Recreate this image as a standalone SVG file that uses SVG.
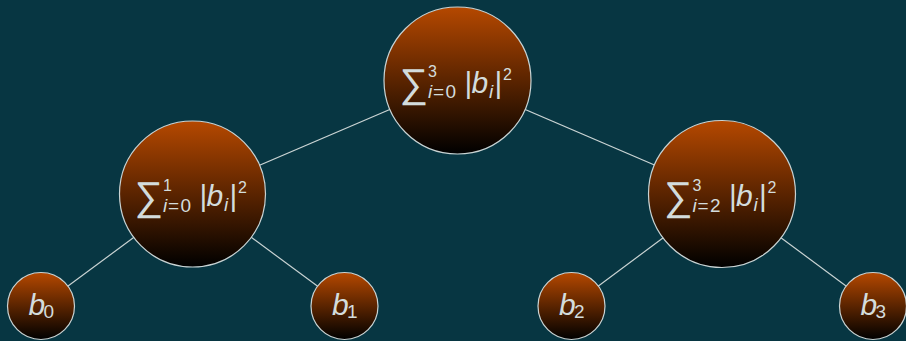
<svg xmlns="http://www.w3.org/2000/svg" width="906" height="341" viewBox="0 0 906 341">
<defs>
<linearGradient id="g" x1="0" y1="0" x2="0" y2="1">
<stop offset="0" stop-color="#b54800"/>
<stop offset="1" stop-color="#000000"/>
</linearGradient>
<style>
.n{fill:url(#g);stroke:#c9d3d3;stroke-width:1.2}
.e{stroke:#c9d3d3;stroke-width:1.2;fill:none}
text{font-family:"Liberation Sans",Arial,sans-serif;fill:#d3dcdc;font-size:30px}
.it{font-style:italic}
.big{font-size:40px}
.s{font-size:16px}
.ss{font-size:19px}
</style>
</defs>
<rect width="906" height="341" fill="#073642"/>
<g id="connectors">
<line class="e" x1="457.5" y1="80.5" x2="192.5" y2="194"/>
<line class="e" x1="457.5" y1="80.5" x2="722" y2="194"/>
<line class="e" x1="192.5" y1="194" x2="41" y2="306"/>
<line class="e" x1="192.5" y1="194" x2="344.5" y2="306"/>
<line class="e" x1="722" y1="194" x2="571.5" y2="306"/>
<line class="e" x1="722" y1="194" x2="873" y2="306"/>
</g>
<g id="root" transform="translate(457.5,80.5)">
<circle class="n" r="73.5"/>
<text><tspan x="-58" y="16" class="big">∑</tspan><tspan x="-29.5" y="-3.5" class="s">3</tspan><tspan x="-29.5" y="17.5" class="ss it">i</tspan><tspan x="-24.5" class="ss">=</tspan><tspan x="-12" class="ss">0</tspan><tspan x="7" y="12">|</tspan><tspan x="14" class="it">b</tspan><tspan x="31.5" y="17" class="ss it">i</tspan><tspan x="37" y="12">|</tspan><tspan x="45.5" y="-1" class="s">2</tspan></text>
</g>
<g id="left" transform="translate(192.5,194)">
<circle class="n" r="73"/>
<text><tspan x="-58" y="16" class="big">∑</tspan><tspan x="-29.5" y="-3.5" class="s">1</tspan><tspan x="-29.5" y="17.5" class="ss it">i</tspan><tspan x="-24.5" class="ss">=</tspan><tspan x="-12" class="ss">0</tspan><tspan x="7" y="12">|</tspan><tspan x="14" class="it">b</tspan><tspan x="31.5" y="17" class="ss it">i</tspan><tspan x="37" y="12">|</tspan><tspan x="45.5" y="-1" class="s">2</tspan></text>
</g>
<g id="right" transform="translate(722,194)">
<circle class="n" r="73.5"/>
<text><tspan x="-58" y="16" class="big">∑</tspan><tspan x="-29.5" y="-3.5" class="s">3</tspan><tspan x="-29.5" y="17.5" class="ss it">i</tspan><tspan x="-24.5" class="ss">=</tspan><tspan x="-12" class="ss">2</tspan><tspan x="7" y="12">|</tspan><tspan x="14" class="it">b</tspan><tspan x="31.5" y="17" class="ss it">i</tspan><tspan x="37" y="12">|</tspan><tspan x="45.5" y="-1" class="s">2</tspan></text>
</g>
<g id="b0" transform="translate(41,306)">
<circle class="n" r="33.5"/>
<text><tspan x="-12.5" y="9" class="it">b</tspan><tspan x="2.5" y="11.5" class="ss">0</tspan></text>
</g>
<g id="b1" transform="translate(344.5,306)">
<circle class="n" r="33.5"/>
<text><tspan x="-12.5" y="9" class="it">b</tspan><tspan x="2.5" y="11.5" class="ss">1</tspan></text>
</g>
<g id="b2" transform="translate(571.5,306)">
<circle class="n" r="33.5"/>
<text><tspan x="-12.5" y="9" class="it">b</tspan><tspan x="2.5" y="11.5" class="ss">2</tspan></text>
</g>
<g id="b3" transform="translate(873,306)">
<circle class="n" r="33.5"/>
<text><tspan x="-12.5" y="9" class="it">b</tspan><tspan x="2.5" y="11.5" class="ss">3</tspan></text>
</g>
</svg>
